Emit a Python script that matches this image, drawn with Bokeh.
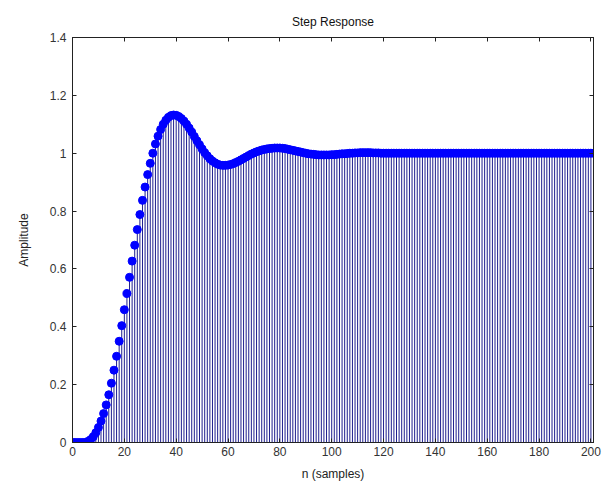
from bokeh.plotting import figure
from bokeh.models import LinearAxis, FixedTicker, Range1d
from bokeh.embed import file_html
from bokeh.resources import INLINE

# ---- data ----
title_text = "Step Response"
x_label = "n (samples)"
y_label = "Amplitude"
x_ticks = [0, 20, 40, 60, 80, 100, 120, 140, 160, 180, 200]
y_ticks = [0, 0.2, 0.4, 0.6, 0.8, 1.0, 1.2, 1.4]

# samples n = 0 .. 39 (rise)
amp_rise = [0, 0, 0, 0, 0, 0, 0.004, 0.010, 0.020, 0.034,
            0.052, 0.074, 0.100, 0.130, 0.165, 0.205, 0.250, 0.298, 0.350, 0.404,
            0.459, 0.515, 0.571, 0.627, 0.682, 0.736, 0.788, 0.837, 0.883, 0.926,
            0.965, 1.000, 1.032, 1.059, 1.082, 1.100, 1.114, 1.124, 1.130, 1.132]
# samples n = 40 .. 79 (first overshoot decay, undershoot)
amp_ring1 = [1.131, 1.127, 1.120, 1.111, 1.100, 1.087, 1.073, 1.058, 1.043, 1.029,
             1.015, 1.002, 0.991, 0.981, 0.973, 0.967, 0.962, 0.959, 0.958, 0.958,
             0.959, 0.961, 0.964, 0.968, 0.972, 0.977, 0.982, 0.987, 0.992, 0.997,
             1.001, 1.005, 1.008, 1.011, 1.013, 1.015, 1.016, 1.017, 1.018, 1.018]
# samples n = 80 .. 120
amp_ring2 = [1.018, 1.017, 1.016, 1.014, 1.012, 1.010, 1.008, 1.006, 1.004, 1.002,
             1.000, 0.998, 0.997, 0.996, 0.995, 0.994, 0.994, 0.994, 0.994, 0.994,
             0.995, 0.995, 0.996, 0.997, 0.998, 0.998, 0.999, 1.000, 1.000, 1.001,
             1.001, 1.002, 1.002, 1.002, 1.002, 1.002, 1.001, 1.001, 1.001, 1.000,
             1.000]
# samples n = 121 .. 201 (settled)
amp_settled = [1.0, 1.0, 1.0, 1.0, 1.0, 1.0, 1.0, 1.0, 1.0, 1.0,
               1.0, 1.0, 1.0, 1.0, 1.0, 1.0, 1.0, 1.0, 1.0, 1.0,
               1.0, 1.0, 1.0, 1.0, 1.0, 1.0, 1.0, 1.0, 1.0, 1.0,
               1.0, 1.0, 1.0, 1.0, 1.0, 1.0, 1.0, 1.0, 1.0, 1.0,
               1.0, 1.0, 1.0, 1.0, 1.0, 1.0, 1.0, 1.0, 1.0, 1.0,
               1.0, 1.0, 1.0, 1.0, 1.0, 1.0, 1.0, 1.0, 1.0, 1.0,
               1.0, 1.0, 1.0, 1.0, 1.0, 1.0, 1.0, 1.0, 1.0, 1.0,
               1.0, 1.0, 1.0, 1.0, 1.0, 1.0, 1.0, 1.0, 1.0, 1.0,
               1.0]

amplitude = amp_rise + amp_ring1 + amp_ring2 + amp_settled
n = list(range(len(amplitude)))
zeros = [0.0] * len(amplitude)

FONT = "Liberation Sans"

p = figure(frame_width=521, frame_height=405,
           x_range=Range1d(0, 201), y_range=Range1d(0, 1.4),
           output_backend="svg", toolbar_location=None,
           min_border_left=72, min_border_top=37, min_border_right=11,
           min_border_bottom=48)

p.title.text = title_text
p.title.align = "center"
p.title.text_font = FONT
p.title.text_font_style = "normal"
p.title.text_font_size = "12px"
p.title.text_color = "#111111"
p.title.offset = 0
p.title.standoff = 18

p.background_fill_color = "white"
p.border_fill_color = "white"
p.outline_line_color = "#222222"
p.outline_line_width = 1
p.xgrid.visible = False
p.ygrid.visible = False

# stems
p.segment(x0=n, y0=zeros, x1=n, y1=amplitude, line_color="#1e1e8e", line_width=1)
# baseline
p.segment(x0=[0], y0=[0], x1=[201], y1=[0], line_color="#1e1e8e", line_width=1)
# markers
p.scatter(x=n, y=amplitude, size=8, fill_color="#0000ff", line_color="#0000ff")

for ax in (p.xaxis[0], p.yaxis[0]):
    ax.axis_label_text_font = FONT
    ax.axis_label_text_font_style = "normal"
    ax.axis_label_text_font_size = "12px"
    ax.axis_label_text_color = "#222222"
    ax.major_label_text_font = FONT
    ax.major_label_text_font_size = "12px"
    ax.major_label_text_color = "#333333"
    ax.major_tick_in = 4
    ax.major_tick_out = 0
    ax.minor_tick_in = 0
    ax.minor_tick_out = 0
    ax.axis_line_color = "#222222"
    ax.major_tick_line_color = "#222222"

p.xaxis[0].axis_label = x_label
p.yaxis[0].axis_label = y_label
p.xaxis[0].ticker = FixedTicker(ticks=x_ticks)
p.yaxis[0].ticker = FixedTicker(ticks=y_ticks)
p.xaxis[0].major_label_standoff = 4
p.yaxis[0].major_label_standoff = 6
p.xaxis[0].axis_label_standoff = 8
p.yaxis[0].axis_label_standoff = 16
p.yaxis[0].major_label_overrides = {1.0: "1", 0: "0"}

# top and right tick marks (no labels), MATLAB box style
top = LinearAxis(ticker=FixedTicker(ticks=x_ticks),
                 major_label_overrides={t: "" for t in x_ticks},
                 major_tick_in=4, major_tick_out=0, minor_tick_in=0, minor_tick_out=0,
                 major_label_standoff=0, axis_line_color="#222222",
                 major_tick_line_color="#222222")
right = LinearAxis(ticker=FixedTicker(ticks=y_ticks),
                   major_label_overrides={t: "" for t in y_ticks},
                   major_tick_in=4, major_tick_out=0, minor_tick_in=0, minor_tick_out=0,
                   major_label_standoff=0, axis_line_color="#222222",
                   major_tick_line_color="#222222")
p.add_layout(top, "above")
p.add_layout(right, "right")

open("out.html", "w").write(file_html(p, INLINE))
